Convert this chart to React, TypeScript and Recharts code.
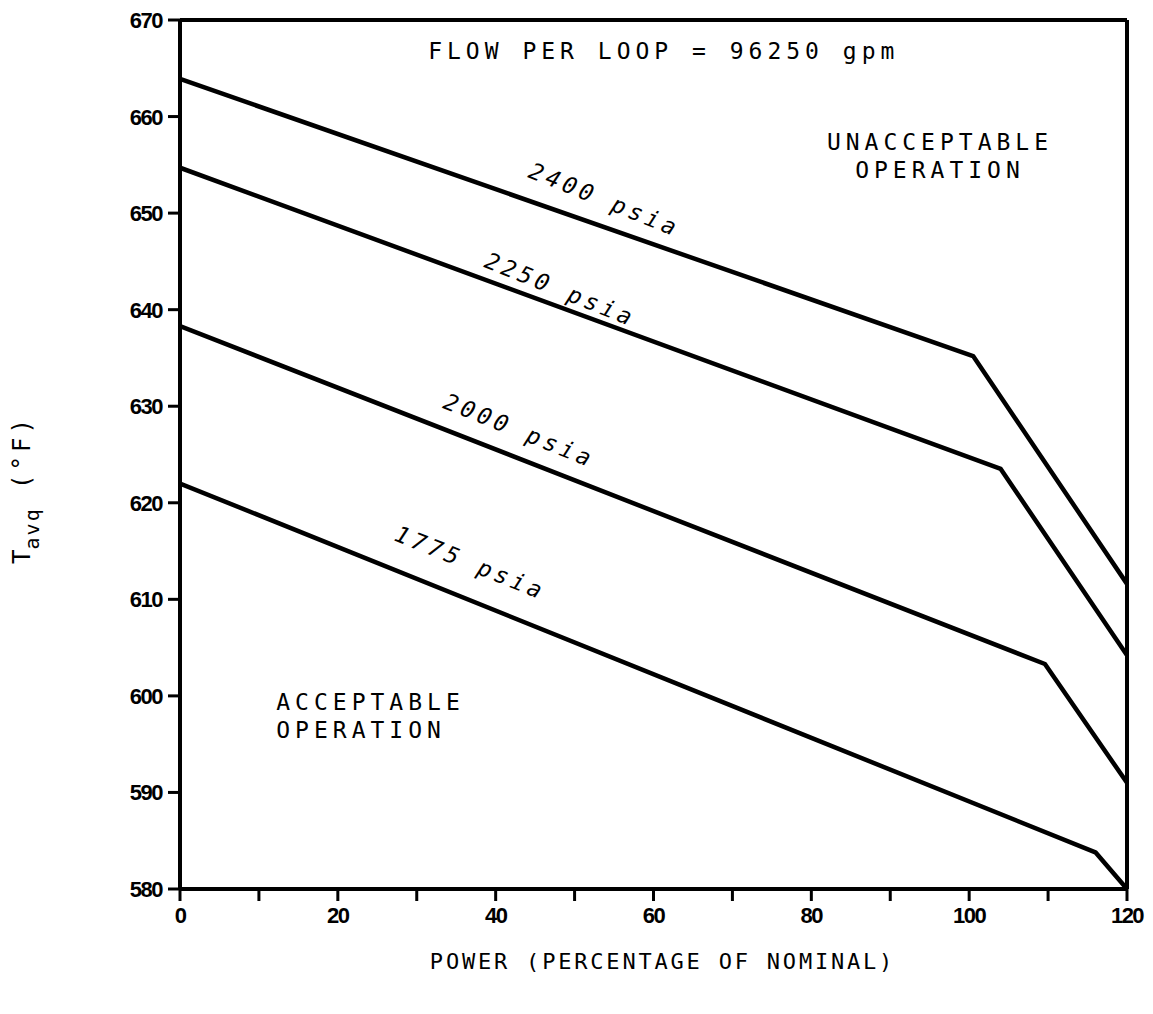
// Tavg vs. power operating limits, one line per pressure
import { LineChart, Line, XAxis, YAxis, ReferenceLine, ReferenceDot } from 'recharts';

// power (% of nominal) at start, knee and end of each curve
const power2400 = [0, 100.5, 120];
const tavg2400 = [663.9, 635.2, 611.6];
const power2250 = [0, 104, 120];
const tavg2250 = [654.7, 623.5, 604.2];
const power2000 = [0, 109.6, 120];
const tavg2000 = [638.3, 603.3, 591];
const power1775 = [0, 116, 120];
const tavg1775 = [622, 583.8, 580];

const xTicks = [0, 10, 20, 30, 40, 50, 60, 70, 80, 90, 100, 110, 120];
const yTicks = [580, 590, 600, 610, 620, 630, 640, 650, 660, 670];

// text notes placed in data units
const notes = [
  { x: 61.3, y: 666.8, text: 'FLOW PER LOOP = 96250 gpm', angle: 0, anchor: 'middle', italic: false },
  { x: 96.3, y: 657.4, text: 'UNACCEPTABLE', angle: 0, anchor: 'middle', italic: false },
  { x: 96.3, y: 654.5, text: 'OPERATION', angle: 0, anchor: 'middle', italic: false },
  { x: 12.2, y: 599.4, text: 'ACCEPTABLE', angle: 0, anchor: 'start', italic: false },
  { x: 12.2, y: 596.5, text: 'OPERATION', angle: 0, anchor: 'start', italic: false },
  { x: 53.8, y: 651.4, text: '2400 psia', angle: 22, anchor: 'middle', italic: true },
  { x: 48.2, y: 642.1, text: '2250 psia', angle: 22, anchor: 'middle', italic: true },
  { x: 43.0, y: 627.5, text: '2000 psia', angle: 22, anchor: 'middle', italic: true },
  { x: 36.8, y: 613.8, text: '1775 psia', angle: 22, anchor: 'middle', italic: true },
];

const toRows = (xs: number[], ys: number[]) => xs.map((p, i) => ({ power: p, tavg: ys[i] }));

const series = [
  { name: '2400', data: toRows(power2400, tavg2400) },
  { name: '2250', data: toRows(power2250, tavg2250) },
  { name: '2000', data: toRows(power2000, tavg2000) },
  { name: '1775', data: toRows(power1775, tavg1775) },
];

const MONO = '"DejaVu Sans Mono", "Liberation Mono", monospace';
const TICKFONT = '"Liberation Sans", Arial, sans-serif';

function XTick(props: any) {
  const { x, y, payload } = props;
  if (payload.value % 20 !== 0) return null;
  return (
    <text x={x} y={y + 20} textAnchor="middle" fontFamily={TICKFONT} fontWeight={900} fontSize={22} letterSpacing={-1.5} fill="#000">
      {payload.value}
    </text>
  );
}

function YTick(props: any) {
  const { x, y, payload } = props;
  return (
    <text x={x - 4} y={y + 8} textAnchor="end" fontFamily={TICKFONT} fontWeight={900} fontSize={22} letterSpacing={-1.5} fill="#000">
      {payload.value}
    </text>
  );
}

function YLabel(props: any) {
  const vb = props.viewBox || { x: 0, y: 20, height: 869 };
  const cx = 30;
  const cy = vb.y + vb.height / 2 + 35;
  return (
    <text
      x={cx}
      y={cy}
      transform={`rotate(-90 ${cx} ${cy})`}
      textAnchor="middle"
      fontFamily={MONO}
      fontSize={24}
      fill="#000"
    >
      T<tspan dy={9} fontSize={20} letterSpacing={2}>avq</tspan>
      <tspan dy={-9} letterSpacing={4}>{'   (°F)'}</tspan>
    </text>
  );
}

function XLabel(props: any) {
  const vb = props.viewBox || { x: 180, y: 889, width: 947 };
  return (
    <text
      x={vb.x + vb.width / 2 + 9}
      y={vb.y + 80}
      textAnchor="middle"
      fontFamily={MONO}
      fontSize={22}
      letterSpacing={2.8}
      fill="#000"
    >
      POWER (PERCENTAGE OF NOMINAL)
    </text>
  );
}

function Note({ cx, cy, text, angle, anchor, italic }: any) {
  return (
    <text
      x={cx}
      y={cy}
      dy={8}
      textAnchor={anchor}
      transform={angle ? `rotate(${angle} ${cx} ${cy})` : undefined}
      fontFamily={MONO}
      fontStyle={italic ? 'italic' : 'normal'}
      fontSize={23}
      letterSpacing={italic ? 4 : 5}
      fill="#000"
    >
      {text}
    </text>
  );
}

export default function App() {
  return (
    <div style={{ position: 'absolute', left: 0, top: 0, background: '#fff' }}>
      <LineChart width={1153} height={1014} margin={{ top: 20, right: 26, left: 0, bottom: 0 }}>
        <XAxis
          dataKey="power"
          type="number"
          domain={[0, 120]}
          ticks={xTicks}
          interval={0}
          allowDataOverflow
          height={125}
          stroke="#000"
          strokeWidth={4}
          tickSize={12}
          tickLine={{ stroke: '#000', strokeWidth: 3 }}
          tick={<XTick />}
          label={<XLabel />}
        />
        <YAxis
          type="number"
          domain={[580, 670]}
          ticks={yTicks}
          interval={0}
          allowDataOverflow
          width={180}
          stroke="#000"
          strokeWidth={4}
          tickSize={12}
          tickLine={{ stroke: '#000', strokeWidth: 3 }}
          tick={<YTick />}
          label={<YLabel />}
        />
        {/* frame: top and right edges */}
        <ReferenceLine y={670} stroke="#000" strokeWidth={4} ifOverflow="visible" />
        <ReferenceLine x={120} stroke="#000" strokeWidth={4} ifOverflow="visible" />

        {series.map((s) => (
          <Line
            key={s.name}
            data={s.data}
            dataKey="tavg"
            type="linear"
            stroke="#000"
            strokeWidth={4.5}
            strokeLinejoin="round"
            dot={false}
            activeDot={false}
            isAnimationActive={false}
          />
        ))}

        {notes.map((n, i) => (
          <ReferenceDot
            key={i}
            x={n.x}
            y={n.y}
            r={1}
            ifOverflow="visible"
            shape={(p: any) => <Note cx={p.cx} cy={p.cy} {...n} />}
          />
        ))}
      </LineChart>
    </div>
  );
}
